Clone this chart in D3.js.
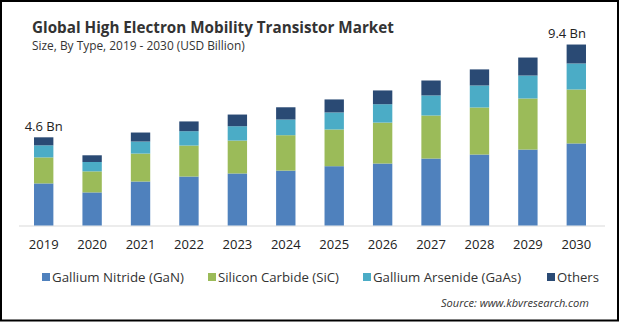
<!DOCTYPE html>
<html>
<head>
<meta charset="utf-8">
<script src="https://cdn.jsdelivr.net/npm/d3@7"></script>
<style>
  body { margin: 0; background: #fff; }
  svg { display: block; font-family: "Open Sans", "DejaVu Sans", sans-serif; }
</style>
</head>
<body>
<div id="chart"></div>
<script>
// data (USD billion)
var years = ["2019", "2020", "2021", "2022", "2023", "2024", "2025", "2026", "2027", "2028", "2029", "2030"];
var gan  = [2.20, 1.73, 2.30, 2.56, 2.72, 2.87, 3.10, 3.24, 3.50, 3.71, 3.97, 4.29];
var sic  = [1.36, 1.10, 1.46, 1.62, 1.72, 1.85, 1.92, 2.14, 2.25, 2.46, 2.67, 2.82];
var gaas = [0.63, 0.49, 0.63, 0.75, 0.75, 0.82, 0.89, 0.96, 1.05, 1.15, 1.20, 1.36];
var others = [0.42, 0.35, 0.47, 0.51, 0.61, 0.64, 0.68, 0.72, 0.78, 0.84, 0.94, 0.99];
var seriesNames = ["Gallium Nitride (GaN)", "Silicon Carbide (SiC)", "Gallium Arsenide (GaAs)", "Others"];
var colors = ["#4f81bd", "#9bbb59", "#4bacc6", "#2a4a74"];
var endLabels = ["4.6 Bn", "9.4 Bn"];

var W = 620, H = 322;

var svg = d3.select("#chart").append("svg")
    .attr("width", W)
    .attr("height", H);

svg.append("rect")
    .attr("x", 1).attr("y", 1)
    .attr("width", W - 3).attr("height", H - 2.5)
    .attr("fill", "#fff")
    .attr("stroke", "#000")
    .attr("stroke-width", 2);

// shrink/grow font so text spans a given width
function fitText(sel, target) {
    var fs = parseFloat(sel.attr("font-size"));
    var w = sel.node().getComputedTextLength();
    sel.attr("font-size", (fs * target / w).toFixed(2));
}

// title
var title = svg.append("text")
    .attr("x", 32).attr("y", 33)
    .attr("font-size", 17)
    .attr("font-weight", "bold")
    .attr("fill", "#333")
    .text("Global High Electron Mobility Transistor Market");
fitText(title, 362);

var sub = svg.append("text")
    .attr("x", 32).attr("y", 50)
    .attr("font-size", 12)
    .attr("fill", "#333")
    .text("Size, By Type, 2019 - 2030 (USD Billion)");
fitText(sub, 213);

// table for the stack
var table = years.map(function (y, i) {
    return { year: y, s0: gan[i], s1: sic[i], s2: gaas[i], s3: others[i] };
});
var keys = ["s0", "s1", "s2", "s3"];
var stacked = d3.stack().keys(keys)(table);

var x = d3.scaleBand()
    .domain(years)
    .range([19, 601])
    .paddingInner(0.6)
    .paddingOuter(0.31);

var y = d3.scaleLinear()
    .domain([0, 10])
    .range([225.5, 34.2]);

// baseline
svg.append("line")
    .attr("x1", x.range()[0]).attr("x2", x.range()[1] + 4)
    .attr("y1", y(0) + 0.5).attr("y2", y(0) + 0.5)
    .attr("stroke", "#d9d9d9")
    .attr("stroke-width", 1);

svg.selectAll("g.layer")
    .data(stacked)
    .enter().append("g")
    .attr("class", "layer")
    .attr("fill", function (d, i) { return colors[i]; })
    .selectAll("rect")
    .data(function (d) { return d; })
    .enter().append("rect")
    .attr("x", function (d) { return x(d.data.year); })
    .attr("width", x.bandwidth())
    .attr("y", function (d) { return y(d[1]); })
    .attr("height", function (d) { return y(d[0]) - y(d[1]); });

// x axis labels
var xAxis = svg.append("g")
    .attr("transform", "translate(0," + (y(0) + 14) + ")")
    .call(d3.axisBottom(x).tickSize(0).tickPadding(0));
xAxis.select(".domain").remove();
xAxis.selectAll("text")
    .attr("font-family", "\"Open Sans\", sans-serif")
    .attr("font-size", 13)
    .attr("fill", "#222")
    .attr("dy", "0.71em");

// total labels on first and last bar
var last = stacked[stacked.length - 1];
svg.append("text")
    .attr("x", x(years[0]) + x.bandwidth() / 2)
    .attr("y", y(last[0][1]) - 6)
    .attr("text-anchor", "middle")
    .attr("font-size", 13)
    .attr("fill", "#222")
    .text(endLabels[0]);
svg.append("text")
    .attr("x", x(years[years.length - 1]) + x.bandwidth())
    .attr("y", y(last[years.length - 1][1]) - 7)
    .attr("text-anchor", "end")
    .attr("font-size", 13)
    .attr("fill", "#222")
    .text(endLabels[1]);

// legend
var legX = [42, 208, 363, 547];
var legEnd = [184, 339, 521, 599];
var leg = svg.selectAll("g.leg")
    .data(seriesNames)
    .enter().append("g")
    .attr("class", "leg")
    .attr("transform", function (d, i) { return "translate(" + legX[i] + ",273)"; });
leg.append("rect")
    .attr("width", 8).attr("height", 8)
    .attr("fill", function (d, i) { return colors[i]; });
leg.append("text")
    .attr("x", 10).attr("y", 9)
    .attr("font-size", 13)
    .attr("fill", "#333")
    .text(function (d) { return d; })
    .each(function (d, i) { fitText(d3.select(this), legEnd[i] - legX[i] - 10); });

// source
var src = svg.append("text")
    .attr("x", 589).attr("y", 307)
    .attr("text-anchor", "end")
    .attr("font-size", 11)
    .attr("font-style", "italic")
    .attr("fill", "#333")
    .text("Source: www.kbvresearch.com");
fitText(src, 148);
</script>
</body>
</html>
